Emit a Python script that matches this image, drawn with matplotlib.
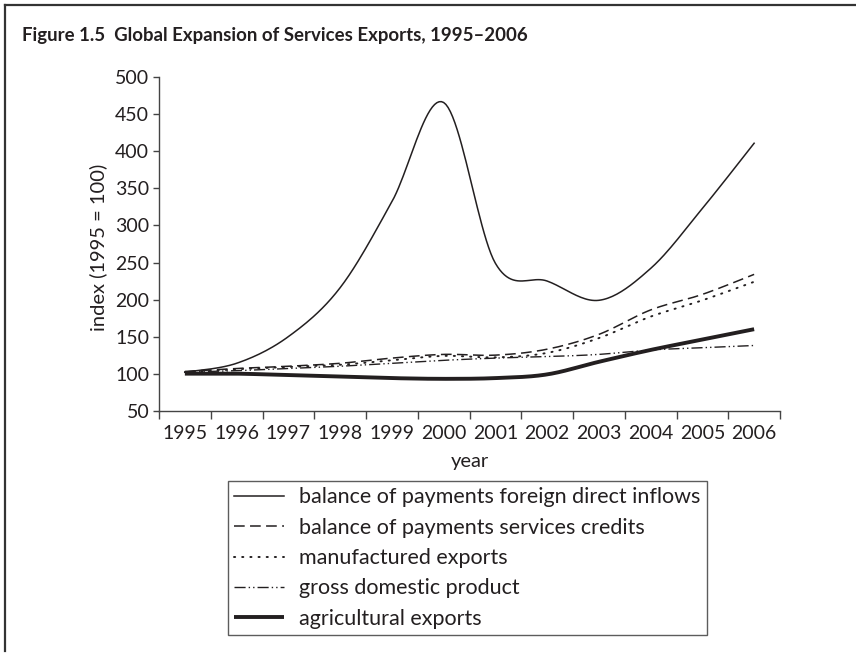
import numpy as np
import matplotlib
matplotlib.use('Agg')
import matplotlib.pyplot as plt
from matplotlib.lines import Line2D

plt.rcParams['font.family'] = ['Lato', 'DejaVu Sans']

INK = "#231f20"

years = [1995, 1996, 1997, 1998, 1999, 2000, 2001, 2002, 2003, 2004, 2005, 2006]
fdi_inflows = [102, 114, 150, 216, 332, 466, 249, 225, 199, 242, 323, 411]
services_credits = [103, 107, 110, 114, 121, 126, 125, 133, 153, 186, 207, 234]
manufactured = [102, 106, 109, 112, 118, 124, 122, 128, 148, 177, 199, 224]
gdp = [102, 104, 107, 110, 114, 118, 121, 123, 126, 132, 135, 138]
agricultural = [100, 100, 98, 96, 94, 93, 94, 99, 116, 132, 146, 160]

y_ticks = [50, 100, 150, 200, 250, 300, 350, 400, 450, 500]

series = [
    ("balance of payments foreign direct inflows", fdi_inflows, dict(lw=1.1, ls="-")),
    ("balance of payments services credits", services_credits, dict(lw=1.1, ls=(0, (7, 3.5)))),
    ("manufactured exports", manufactured, dict(lw=1.4, ls=(0, (0.6, 3.6)), dash_capstyle="round")),
    ("gross domestic product", gdp, dict(lw=1.0, ls=(0, (8, 2.2, 1, 2.2, 1, 2.2)))),
    ("agricultural exports", agricultural, dict(lw=2.8, ls="-", solid_capstyle="butt")),
]


def smooth(x, y, n=24):
    """Catmull-Rom style bezier smoothing, like a spreadsheet 'smoothed line'."""
    p = np.column_stack([np.asarray(x, float), np.asarray(y, float)])
    pad = np.vstack([p[0], p, p[-1]])
    t = np.linspace(0, 1, n)[:, None]
    out = []
    for i in range(len(p) - 1):
        p0, p1, p2, p3 = pad[i], pad[i + 1], pad[i + 2], pad[i + 3]
        c1 = p1 + (p2 - p0) / 6
        c2 = p2 - (p3 - p1) / 6
        seg = ((1 - t) ** 3) * p1 + 3 * ((1 - t) ** 2) * t * c1 + 3 * (1 - t) * t ** 2 * c2 + t ** 3 * p2
        out.append(seg if i == 0 else seg[1:])
    seg = np.vstack(out)
    return seg[:, 0], seg[:, 1]


fig = plt.figure(figsize=(8.56, 6.61), dpi=100)
ax = fig.add_axes([159 / 856, 1 - 410.7 / 661, 621 / 856, 333.4 / 661])

handles = []
for label, vals, style in series:
    sx, sy = smooth(years, vals)
    ax.plot(sx, sy, color=INK, **style)
    handles.append(Line2D([], [], color=INK, label=label, **style))

ax.set_xlim(1994.5, 2006.5)
ax.set_ylim(50, 500)
ax.set_yticks(y_ticks)
ax.set_xticks(np.arange(1994.5, 2007, 1.0))
ax.set_xticklabels([])
ax.set_xticks(years, minor=True)
ax.set_xticklabels([str(y) for y in years], minor=True)
ax.tick_params(axis="x", which="major", length=6, width=1.0, color="#444444", direction="out")
ax.tick_params(axis="x", which="minor", length=0, pad=10, labelsize=14, labelcolor=INK)
ax.tick_params(axis="y", length=4.5, width=1.0, color="#444444", pad=2.5, labelsize=14, labelcolor=INK)

for side in ("top", "right"):
    ax.spines[side].set_visible(False)
for side in ("left", "bottom"):
    ax.spines[side].set_color("#444444")
    ax.spines[side].set_linewidth(1.0)

ax.set_ylabel("index (1995 = 100)", fontsize=14.5, color=INK)
ax.yaxis.set_label_coords(-0.098, 0.49)
ax.yaxis.label.set_va("center")
ax.set_xlabel("year", fontsize=14.5, color=INK)
ax.xaxis.set_label_coords(0.5, -0.151)
ax.xaxis.label.set_va("center")

fig.text(22 / 856, 1 - 35 / 661, "Figure 1.5  Global Expansion of Services Exports, 1995\u20132006",
         ha="left", va="center", fontsize=13.4, fontweight="bold", color=INK)

# page frame: top and left rules only
fig.add_artist(Line2D([5 / 856, 1.0], [1 - 5 / 661, 1 - 5 / 661], transform=fig.transFigure,
                      color="#333333", lw=1.6))
fig.add_artist(Line2D([5 / 856, 5 / 856], [1 - 5 / 661, 1 - 651 / 661], transform=fig.transFigure,
                      color="#333333", lw=1.6))

leg = fig.legend(handles=handles, loc="upper left", bbox_to_anchor=(228 / 856, 1 - 481 / 661),
                 borderaxespad=0, fontsize=15.5, handlelength=2.28, handletextpad=0.74,
                 labelspacing=0.48, borderpad=0.3, frameon=True, fancybox=False)
leg.get_frame().set_edgecolor("#333333")
leg.get_frame().set_linewidth(1.0)
for txt in leg.get_texts():
    txt.set_color(INK)

fig.savefig("out.png", dpi=100)
